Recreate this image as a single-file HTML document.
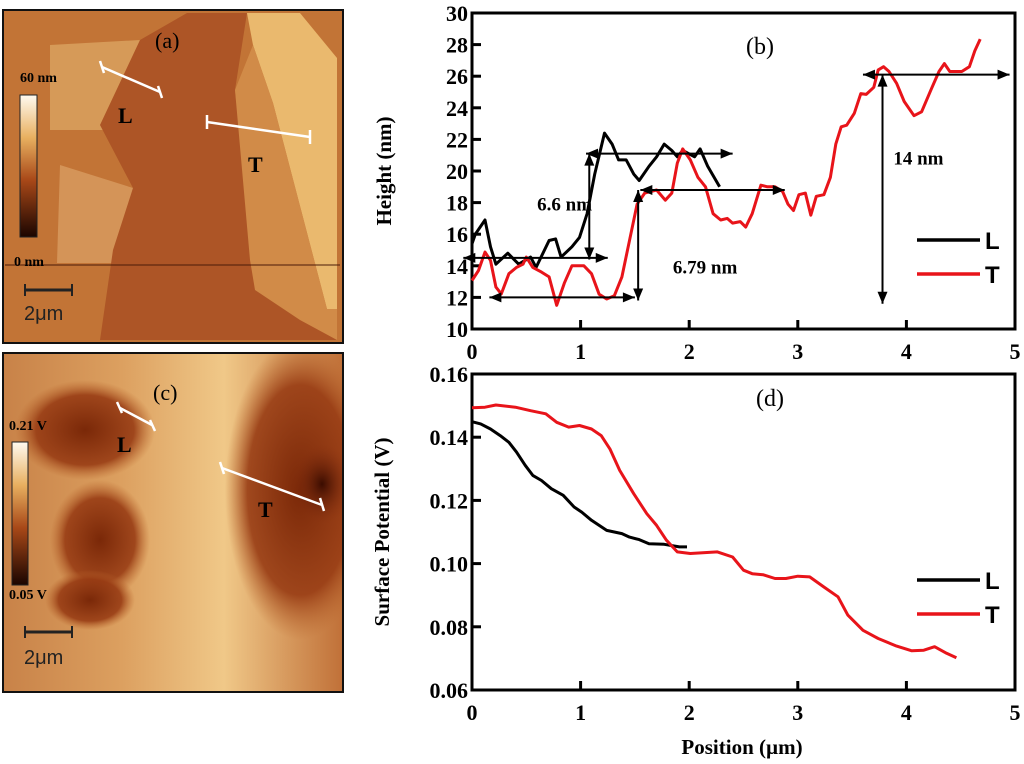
<!DOCTYPE html>
<html><head><meta charset="utf-8"><style>
html,body{margin:0;padding:0;background:#fff;}
svg{display:block;}
text{font-family:"Liberation Serif",serif;font-weight:bold;}
</style></head><body>
<svg id="fig" width="1024" height="764" viewBox="0 0 1024 764" xmlns="http://www.w3.org/2000/svg">
<defs>
<linearGradient id="cb1" x1="0" y1="0" x2="0" y2="1"><stop offset="0" stop-color="#fffaf0"/><stop offset="0.3" stop-color="#e8b060"/><stop offset="0.6" stop-color="#a84818"/><stop offset="1" stop-color="#1a0500"/></linearGradient>
<radialGradient id="blob" cx="0.5" cy="0.5" r="0.5"><stop offset="0" stop-color="#7a2808"/><stop offset="0.7" stop-color="#983c14" stop-opacity="0.9"/><stop offset="1" stop-color="#b8642c" stop-opacity="0"/></radialGradient>
<radialGradient id="blobd" cx="0.5" cy="0.5" r="0.5"><stop offset="0" stop-color="#3a0c00"/><stop offset="1" stop-color="#8a3010" stop-opacity="0"/></radialGradient>
<linearGradient id="cbg" x1="0" y1="0" x2="1" y2="0"><stop offset="0" stop-color="#c88248"/><stop offset="0.35" stop-color="#dca060"/><stop offset="0.65" stop-color="#f0c888"/><stop offset="1" stop-color="#c07038"/></linearGradient>
<clipPath id="clipA"><rect x="3" y="10" width="340" height="333"/></clipPath>
<clipPath id="clipC"><rect x="3" y="353" width="340" height="339"/></clipPath>
</defs>

<!-- Image (a) -->
<g>
<g clip-path="url(#clipA)">
<rect x="3" y="10" width="340" height="333" fill="#c27436"/>
<polygon points="50,45 140,40 113,130 50,130" fill="#d69a58"/>
<polygon points="60,165 133,188 113,263 57,263" fill="#d49458"/>
<polygon points="140,40 187,13 247,13 235,90 253,260 273,300 337,340 100,340 113,250 133,188 100,125" fill="#ad5526"/>
<polygon points="247,13 300,13 337,58 337,309 327,309 273,103 253,45" fill="#eab96e"/>
<polygon points="235,90 253,45 273,103 327,309 337,309 337,340 300,320 255,290 250,260" fill="#d18b48"/>
<line x1="5" y1="265" x2="340" y2="265" stroke="#4a1a08" stroke-width="1"/>
</g>
<rect x="3" y="10" width="340" height="333" fill="none" stroke="#111" stroke-width="2"/>
<rect x="20" y="95" width="17" height="142" fill="url(#cb1)" stroke="#222" stroke-width="1"/>
<text x="20" y="82" font-size="14">60 nm</text>
<text x="14" y="266" font-size="14">0 nm</text>
<line x1="25" y1="290" x2="72" y2="290" stroke="#222" stroke-width="3"/>
<line x1="25" y1="284" x2="25" y2="296" stroke="#222" stroke-width="2"/><line x1="72" y1="284" x2="72" y2="296" stroke="#222" stroke-width="2"/>
<text x="24" y="320" font-size="20" style="font-family:'Liberation Sans',sans-serif;font-weight:normal" fill="#222">2μm</text>
<text x="155" y="48" font-size="22" style="font-weight:normal">(a)</text>
<g stroke="#fff" stroke-width="2.5"><line x1="102" y1="67" x2="160" y2="92"/><line x1="100" y1="61" x2="104" y2="73"/><line x1="158" y1="86" x2="162" y2="98"/>
<line x1="207" y1="122" x2="310" y2="137"/><line x1="207" y1="115" x2="207" y2="129"/><line x1="310" y1="130" x2="310" y2="144"/></g>
<text x="118" y="123" font-size="22">L</text>
<text x="248" y="172" font-size="22">T</text>
</g>

<!-- Image (c) -->
<g>
<g clip-path="url(#clipC)">
<rect x="3" y="353" width="340" height="339" fill="url(#cbg)"/>
<ellipse cx="85" cy="430" rx="70" ry="50" fill="url(#blob)"/>
<ellipse cx="100" cy="540" rx="50" ry="60" fill="url(#blob)"/>
<ellipse cx="90" cy="600" rx="45" ry="30" fill="url(#blob)"/>
<ellipse cx="300" cy="490" rx="75" ry="150" fill="url(#blob)"/>
<ellipse cx="322" cy="484" rx="30" ry="40" fill="url(#blobd)"/>
</g>
<rect x="3" y="353" width="340" height="339" fill="none" stroke="#111" stroke-width="2"/>
<rect x="12" y="442" width="16" height="143" fill="url(#cb1)" stroke="#222" stroke-width="1"/>
<text x="9" y="430" font-size="14">0.21 V</text>
<text x="9" y="599" font-size="14">0.05 V</text>
<line x1="25" y1="632" x2="72" y2="632" stroke="#222" stroke-width="3"/>
<line x1="25" y1="626" x2="25" y2="638" stroke="#222" stroke-width="2"/><line x1="72" y1="626" x2="72" y2="638" stroke="#222" stroke-width="2"/>
<text x="24" y="664" font-size="20" style="font-family:'Liberation Sans',sans-serif;font-weight:normal" fill="#222">2μm</text>
<text x="153" y="400" font-size="22" style="font-weight:normal">(c)</text>
<g stroke="#fff" stroke-width="2.5"><line x1="120" y1="408" x2="152" y2="425"/><line x1="117" y1="402" x2="122" y2="413"/><line x1="150" y1="420" x2="155" y2="431"/>
<line x1="222" y1="468" x2="322" y2="505"/><line x1="220" y1="462" x2="224" y2="474"/><line x1="320" y1="498" x2="324" y2="511"/></g>
<text x="117" y="452" font-size="22">L</text>
<text x="258" y="517" font-size="22">T</text>
</g>

<g id="chartB"></g>
<g id="chartD"></g>
</svg>
<script>
const bX_L = [0,.03,.12,.17,.22,.33,.43,.54,.59,.71,.77,.82,.92,.99,1.06,1.13,1.22,1.29,1.35,1.42,1.49,1.54,1.63,1.70,1.77,1.84,1.89,1.94,2.05,2.10,2.17,2.28];
const bY_L = [15.4,16.0,16.9,15.2,14.1,14.8,14.1,14.55,13.9,15.6,15.7,14.55,15.2,15.8,17.3,19.8,22.4,21.7,20.7,20.7,19.8,19.4,20.3,20.9,21.7,21.3,20.9,21.3,20.9,21.4,20.3,19.0];
const bX_T = [0,.06,.12,.17,.22,.27,.34,.41,.47,.50,.56,.64,.71,.78,.85,.92,1.03,1.10,1.17,1.24,1.31,1.38,1.45,1.52,1.59,1.70,1.78,1.84,1.89,1.94,2.01,2.08,2.15,2.22,2.29,2.35,2.40,2.47,2.52,2.58,2.66,2.72,2.79,2.86,2.91,2.96,3.01,3.07,3.12,3.17,3.24,3.30,3.35,3.40,3.45,3.52,3.58,3.63,3.70,3.74,3.79,3.84,3.91,3.98,4.07,4.14,4.23,4.30,4.35,4.40,4.51,4.58,4.63,4.68];
const bY_T = [13.07,13.7,14.87,14.34,12.65,12.22,13.5,13.9,14.1,14.55,13.9,13.6,13.3,11.5,12.9,14.0,14.0,13.5,12.2,11.9,12.1,13.3,15.6,17.9,18.6,18.8,18.15,18.6,20.5,21.4,20.7,19.6,19.0,17.3,16.9,17.0,16.7,16.8,16.45,17.3,19.1,19.0,19.0,18.7,17.9,17.5,18.5,18.6,17.2,18.4,18.5,19.6,21.7,22.8,22.9,23.65,24.9,24.85,25.3,26.4,26.6,26.3,25.55,24.4,23.5,23.75,25.2,26.3,26.8,26.3,26.3,26.6,27.6,28.35];
const bYTicks = [10,12,14,16,18,20,22,24,26,28,30];
const xTicks = [0,1,2,3,4,5];
const dX_L = [0,.08,.17,.26,.34,.41,.49,.56,.64,.73,.84,.94,1.01,1.10,1.24,1.38,1.45,1.54,1.63,1.77,1.91,1.98];
const dY_L = [.1449,.1442,.1426,.1405,.1384,.1353,.1311,.1279,.1263,.1237,.1216,.1179,.1163,.1137,.1105,.1095,.1084,.1076,.1063,.1061,.1053,.1053];
const dX_T = [0,.12,.22,.40,.54,.68,.78,.89,.99,1.10,1.19,1.27,1.36,1.49,1.61,1.70,1.79,1.89,2.01,2.26,2.40,2.50,2.58,2.68,2.79,2.89,3.00,3.11,3.24,3.37,3.46,3.60,3.74,3.91,4.05,4.16,4.26,4.37,4.46];
const dY_T = [.1493,.1495,.1502,.1495,.1484,.1474,.1447,.1432,.1437,.1426,.1405,.1363,.1295,.1221,.1158,.1121,.1074,.1037,.1032,.1037,.1021,.0979,.0968,.0965,.0953,.0953,.0960,.0958,.0926,.0895,.0837,.0789,.0763,.0739,.0724,.0726,.0737,.0716,.0702];
const dYTicks = [0.06,0.08,0.10,0.12,0.14,0.16];

const NS='http://www.w3.org/2000/svg';
function mk(parent, tag, attrs){const e=document.createElementNS(NS,tag);for(const k in attrs)e.setAttribute(k,attrs[k]);parent.appendChild(e);return e;}
function txt(parent,x,y,s,size,anchor,extra){const t=mk(parent,'text',Object.assign({x:x,y:y,'font-size':size,'text-anchor':anchor||'start'},extra||{}));t.textContent=s;return t;}

function drawChart(g, opt){
  const sx=v=>opt.x0+(v-0)/5*(opt.x1-opt.x0);
  const sy=v=>opt.yb+(v-opt.ymin)/(opt.ymax-opt.ymin)*(opt.yt-opt.yb);
  const frame=mk(g,'rect',{x:opt.x0,y:opt.yt,width:opt.x1-opt.x0,height:opt.yb-opt.yt,fill:'none',stroke:'#000','stroke-width':3});
  
  
  opt.yTicks.forEach(v=>{
    mk(g,'line',{x1:opt.x0,x2:opt.x0+9,y1:sy(v),y2:sy(v),stroke:'#000','stroke-width':3});
    const t=txt(g,opt.x0-4,sy(v)+8,opt.fmt(v),22,'end');
    
    
  });
  xTicks.forEach(v=>{
    mk(g,'line',{x1:sx(v),x2:sx(v),y1:opt.yb,y2:opt.yb-9,stroke:'#000','stroke-width':3});
    const t=txt(g,sx(v),opt.yb+30,String(v),22,'middle');
    
    
  });
  const series=[[opt.xL,opt.yL,'#000','series-L'],[opt.xT,opt.yT,'#e8141a','series-T']];
  series.forEach(s=>{
    const d=s[0].map((x,i)=>(i?'L':'M')+sx(x).toFixed(1)+','+sy(s[1][i]).toFixed(1)).join(' ');
    const p=mk(g,'path',{d:d,fill:'none',stroke:s[2],'stroke-width':3,'stroke-linejoin':'round'});
    
    
  });
  const lg=mk(g,'g',{});
  
  
  mk(lg,'line',{x1:917,x2:980,y1:opt.legY,y2:opt.legY,stroke:'#000','stroke-width':3.5});
  txt(lg,985,opt.legY+9,'L',24,'start',{style:'font-family:"Liberation Sans",sans-serif'});
  mk(lg,'line',{x1:917,x2:980,y1:opt.legY+34,y2:opt.legY+34,stroke:'#e8141a','stroke-width':3.5});
  txt(lg,985,opt.legY+43,'T',24,'start',{style:'font-family:"Liberation Sans",sans-serif'});
  return {sx,sy};
}

const gB=document.getElementById('chartB');
const B=drawChart(gB,{x0:472,x1:1015,yt:13,yb:329,ymin:10,ymax:30,yTicks:bYTicks,fmt:v=>String(v),xL:bX_L,yL:bY_L,xT:bX_T,yT:bY_T,legY:240});
const gD=document.getElementById('chartD');
const D=drawChart(gD,{x0:472,x1:1015,yt:374,yb:690,ymin:0.06,ymax:0.16,yTicks:dYTicks,fmt:v=>v.toFixed(2),xL:dX_L,yL:dY_L,xT:dX_T,yT:dY_T,legY:580});

function arrow(g,x1,y1,x2,y2){
  mk(g,'line',{x1:x1,y1:y1,x2:x2,y2:y2,stroke:'#000','stroke-width':2});
  const ang=Math.atan2(y2-y1,x2-x1);
  [[x2,y2,ang],[x1,y1,ang+Math.PI]].forEach(a=>{
    const [x,y,t]=a,L=12,W=5;
    const p=[[x,y],[x-L*Math.cos(t)+W*Math.sin(t),y-L*Math.sin(t)-W*Math.cos(t)],[x-L*Math.cos(t)-W*Math.sin(t),y-L*Math.sin(t)+W*Math.cos(t)]];
    mk(g,'polygon',{points:p.map(q=>q.join(',')).join(' '),fill:'#000'});
  });
}
const ann=mk(gB,'g',{});


arrow(ann,B.sx(-0.08),B.sy(14.5),B.sx(1.25),B.sy(14.5));
arrow(ann,B.sx(1.08),B.sy(14.4),B.sx(1.08),B.sy(21.1));
arrow(ann,B.sx(1.05),B.sy(21.1),B.sx(2.4),B.sy(21.1));
arrow(ann,B.sx(0.16),B.sy(12.0),B.sx(1.5),B.sy(12.0));
arrow(ann,B.sx(1.53),B.sy(11.8),B.sx(1.53),B.sy(18.8));
arrow(ann,B.sx(1.55),B.sy(18.8),B.sx(2.88),B.sy(18.8));
arrow(ann,B.sx(3.78),B.sy(11.6),B.sx(3.78),B.sy(26.1));
arrow(ann,B.sx(3.6),B.sy(26.1),B.sx(4.95),B.sy(26.1));
txt(ann,B.sx(0.6),B.sy(17.5),'6.6 nm',19,'start');
txt(ann,B.sx(1.85),B.sy(13.5),'6.79 nm',19,'start');
txt(ann,B.sx(3.88),B.sy(20.4),'14 nm',19,'start');
const pb=txt(gB,760,54,'(b)',24,'middle',{style:'font-weight:normal'});


const pd=txt(gD,770,406,'(d)',24,'middle',{style:'font-weight:normal'});


const ya=txt(gB,0,0,'Height (nm)',21,'middle',{transform:'translate(391,171) rotate(-90)'});


const yd=txt(gD,0,0,'Surface Potential (V)',21,'middle',{transform:'translate(389,532) rotate(-90)'});


const xa=txt(gD,742,754,'Position (µm)',21,'middle');


</script>
</body></html>
